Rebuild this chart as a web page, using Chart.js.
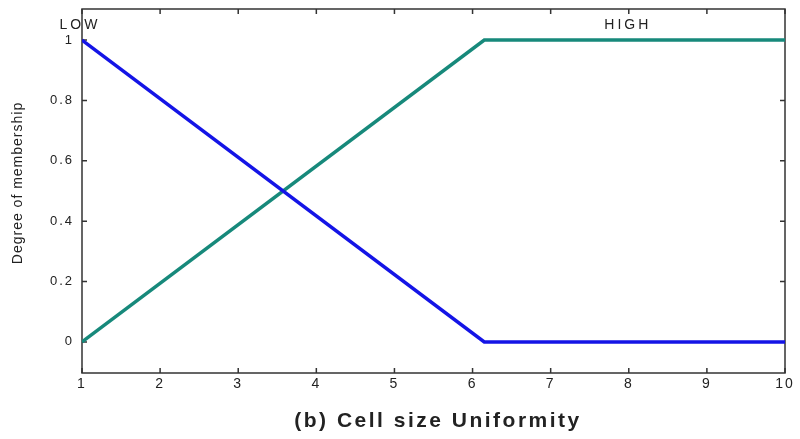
<!DOCTYPE html>
<html lang="en">
<head>
    <meta charset="UTF-8">
    <title>Cell size Uniformity</title>
    <script src="https://cdn.jsdelivr.net/npm/chart.js"></script>
    <style>
        html, body { margin: 0; padding: 0; background: #fff; }
        #wrap { position: relative; width: 800px; height: 439px; }
    </style>
</head>
<body>
    <div id="wrap"><canvas id="mfChart"></canvas></div>
    <script>
        // membership functions (x, degree)
        const lowX = [1, 6.15, 10];
        const lowY = [1, 0, 0];
        const highX = [1, 6.15, 10];
        const highY = [0, 1, 1];
        const xTicks = [1, 2, 3, 4, 5, 6, 7, 8, 9, 10];
        const yTicks = [0, 0.2, 0.4, 0.6, 0.8, 1];
        const mfNames = ['LOW', 'HIGH'];
        const mfLabelX = [1, 7.95];   // where the names sit, in data units

        const toPts = (xs, ys) => xs.map((x, i) => ({ x: x, y: ys[i] }));

        // frame, inward ticks and the text labels
        const decor = {
            id: 'decor',
            beforeDraw(chart) {
                // spaced-out tick labels like the original
                chart.ctx.letterSpacing = '2px';
            },
            beforeDatasetsDraw(chart) {
                const { ctx, chartArea: a, scales } = chart;
                ctx.save();
                ctx.strokeStyle = '#333';
                ctx.lineWidth = 1.5;
                ctx.strokeRect(a.left, a.top, a.right - a.left, a.bottom - a.top);
                ctx.beginPath();
                xTicks.forEach(v => {
                    const px = scales.x.getPixelForValue(v);
                    ctx.moveTo(px, a.bottom); ctx.lineTo(px, a.bottom - 5);
                    ctx.moveTo(px, a.top); ctx.lineTo(px, a.top + 5);
                });
                yTicks.forEach(v => {
                    const py = scales.y.getPixelForValue(v);
                    ctx.moveTo(a.left, py); ctx.lineTo(a.left + 5, py);
                    ctx.moveTo(a.right, py); ctx.lineTo(a.right - 5, py);
                });
                ctx.stroke();
                ctx.restore();
            },
            afterDraw(chart) {
                const { ctx, scales } = chart;
                ctx.save();
                ctx.fillStyle = '#222';
                ctx.textBaseline = 'middle';
                ctx.font = '14px "Liberation Sans"';
                ctx.letterSpacing = '3px';
                ctx.textAlign = 'center';
                ctx.fillText(mfNames[0], scales.x.getPixelForValue(mfLabelX[0]) - 2, 25);
                ctx.fillText(mfNames[1], scales.x.getPixelForValue(mfLabelX[1]) + 3, 25);

                // x axis title
                ctx.letterSpacing = '2.5px';
                ctx.font = 'bold 21px "Liberation Sans"';
                ctx.fillText('(b) Cell size Uniformity', 438, 421);

                // y axis title
                ctx.letterSpacing = '1px';
                ctx.font = '14px "Liberation Sans"';
                ctx.translate(18, 183);
                ctx.rotate(-Math.PI / 2);
                ctx.fillText('Degree of membership', 0, 0);
                ctx.restore();
            }
        };

        // keep the plot box exactly where the layout padding puts it
        const noEdgePad = s => {
            s.paddingTop = 0; s.paddingBottom = 0;
            s.paddingLeft = 0; s.paddingRight = 0;
        };

        new Chart(document.getElementById('mfChart'), {
            type: 'line',
            data: {
                datasets: [
                    {
                        label: mfNames[0],
                        data: toPts(lowX, lowY),
                        borderColor: '#1414e6',
                        borderWidth: 3.5,
                        pointRadius: 0,
                        tension: 0
                    },
                    {
                        label: mfNames[1],
                        data: toPts(highX, highY),
                        borderColor: '#17897b',
                        borderWidth: 3.5,
                        pointRadius: 0,
                        tension: 0
                    }
                ]
            },
            options: {
                responsive: true,
                maintainAspectRatio: false,
                animation: false,
                layout: { padding: { top: 9, right: 15, left: 0, bottom: 0 } },
                plugins: {
                    legend: { display: false },
                    tooltip: { enabled: false }
                },
                scales: {
                    x: {
                        type: 'linear',
                        min: 1,
                        max: 10,
                        afterFit: s => { s.height = 66; noEdgePad(s); },
                        afterBuildTicks: s => { s.ticks = xTicks.map(v => ({ value: v })); },
                        grid: { display: false, drawTicks: false },
                        border: { display: false },
                        ticks: {
                            padding: 3,
                            color: '#222',
                            font: { family: 'Liberation Sans', size: 14 },
                            callback: v => String(v)
                        }
                    },
                    y: {
                        min: -0.103,
                        max: 1.103,
                        afterFit: s => { s.width = 82; noEdgePad(s); },
                        afterBuildTicks: s => { s.ticks = yTicks.map(v => ({ value: v })); },
                        grid: { display: false, drawTicks: false },
                        border: { display: false },
                        ticks: {
                            padding: 8,
                            color: '#222',
                            font: { family: 'Liberation Sans', size: 13 },
                            callback: v => String(+v.toFixed(1))
                        }
                    }
                }
            },
            plugins: [decor]
        });
    </script>
</body>
</html>
